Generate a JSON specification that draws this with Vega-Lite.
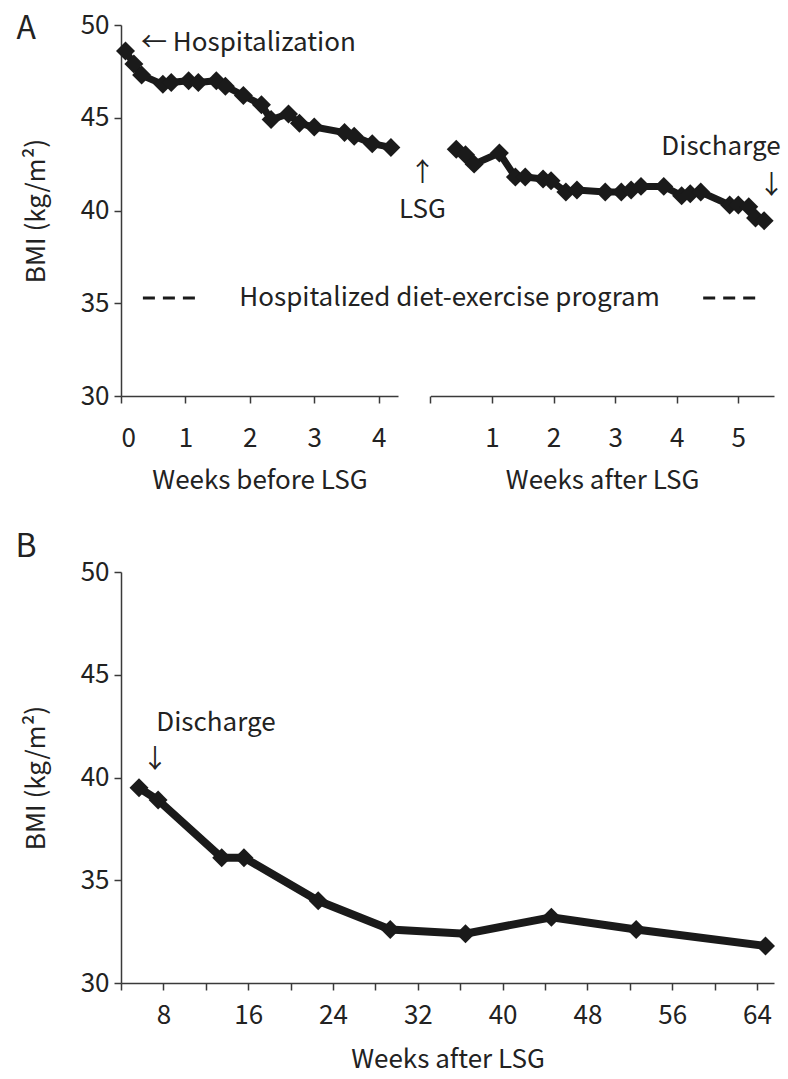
{
  "$schema": "https://vega.github.io/schema/vega-lite/v6.json",
  "background": "white",
  "padding": {"left": 15, "top": 12, "right": 5, "bottom": 5},
  "spacing": 38,
  "config": {
    "view": {"stroke": null},
    "font": "Noto Sans CJK JP",
    "axis": {
      "grid": false,
      "domainColor": "#3a3a3a",
      "domainWidth": 1.5,
      "tickColor": "#3a3a3a",
      "tickWidth": 1.5,
      "tickSize": 7,
      "labelFont": "Noto Sans CJK JP",
      "labelFontSize": 26,
      "labelColor": "#222222",
      "titleFont": "Noto Sans CJK JP",
      "titleFontSize": 26,
      "titleFontWeight": "normal",
      "titleColor": "#222222"
    },
    "text": {"font": "Noto Sans CJK JP", "fontSize": 26, "color": "#222222"}
  },
  "datasets": {
    "before": [
      {"week": 0.07, "bmi": 48.6}, {"week": 0.2, "bmi": 47.9}, {"week": 0.32, "bmi": 47.3},
      {"week": 0.65, "bmi": 46.8}, {"week": 0.78, "bmi": 46.9}, {"week": 1.05, "bmi": 47.0},
      {"week": 1.2, "bmi": 46.9}, {"week": 1.48, "bmi": 47.0}, {"week": 1.62, "bmi": 46.7},
      {"week": 1.9, "bmi": 46.2}, {"week": 2.18, "bmi": 45.7}, {"week": 2.33, "bmi": 44.9},
      {"week": 2.6, "bmi": 45.2}, {"week": 2.77, "bmi": 44.7}, {"week": 3.0, "bmi": 44.5},
      {"week": 3.47, "bmi": 44.2}, {"week": 3.62, "bmi": 44.0}, {"week": 3.9, "bmi": 43.6},
      {"week": 4.19, "bmi": 43.4}
    ],
    "after": [
      {"week": 0.42, "bmi": 43.3}, {"week": 0.57, "bmi": 43.0}, {"week": 0.71, "bmi": 42.5},
      {"week": 1.12, "bmi": 43.1}, {"week": 1.38, "bmi": 41.8}, {"week": 1.54, "bmi": 41.8},
      {"week": 1.83, "bmi": 41.7}, {"week": 1.96, "bmi": 41.6}, {"week": 2.2, "bmi": 41.0},
      {"week": 2.38, "bmi": 41.1}, {"week": 2.84, "bmi": 41.0}, {"week": 3.1, "bmi": 41.0},
      {"week": 3.26, "bmi": 41.1}, {"week": 3.42, "bmi": 41.3}, {"week": 3.79, "bmi": 41.3},
      {"week": 4.08, "bmi": 40.8}, {"week": 4.22, "bmi": 40.9}, {"week": 4.39, "bmi": 41.0},
      {"week": 4.86, "bmi": 40.3}, {"week": 5.0, "bmi": 40.3}, {"week": 5.17, "bmi": 40.2},
      {"week": 5.28, "bmi": 39.6}, {"week": 5.42, "bmi": 39.45}
    ],
    "followup": [
      {"week": 5.7, "bmi": 39.5}, {"week": 7.5, "bmi": 38.9}, {"week": 13.5, "bmi": 36.1},
      {"week": 15.6, "bmi": 36.1}, {"week": 22.6, "bmi": 34.0}, {"week": 29.4, "bmi": 32.6},
      {"week": 36.5, "bmi": 32.4}, {"week": 44.6, "bmi": 33.2}, {"week": 52.6, "bmi": 32.6},
      {"week": 64.8, "bmi": 31.8}
    ],
    "panelA": [{"week": -1.47, "bmi": 49.8, "label": "A"}],
    "notesLeft": [
      {"week": 0.31, "bmi": 49.03, "label": "← Hospitalization"}
    ],
    "notesLeftCenter": [
      {"week": 4.68, "bmi": 42.0, "label": "↑"},
      {"week": 4.68, "bmi": 40.03, "label": "LSG"},
      {"week": 5.1, "bmi": 35.28, "label": "Hospitalized diet-exercise program"}
    ],
    "notesRight": [
      {"week": 4.72, "bmi": 43.4, "label": "Discharge"},
      {"week": 5.54, "bmi": 41.3, "label": "↓"}
    ],
    "dashLeft": [{"week": 0.34, "week2": 1.2, "bmi": 35.28}],
    "dashRight": [{"week": 4.43, "week2": 5.28, "bmi": 35.28}],
    "panelB": [{"week": -4.96, "bmi": 51.2, "label": "B"}],
    "notesB": [
      {"week": 12.96, "bmi": 42.66, "label": "Discharge"},
      {"week": 7.2, "bmi": 40.86, "label": "↓"}
    ]
  },
  "vconcat": [
    {
      "width": 653,
      "height": 371,
      "encoding": {
        "y": {
          "field": "bmi", "type": "quantitative",
          "scale": {"domain": [30, 50], "nice": false, "zero": false},
          "axis": {"values": [30, 35, 40, 45, 50], "title": "BMI  (kg/m²)", "labelPadding": 5, "titlePadding": 31}
        }
      },
      "layer": [
        {
          "encoding": {
            "x": {
              "field": "week", "type": "quantitative",
              "scale": {"domain": [0, 4.3], "range": [0, 277], "nice": false, "zero": false},
              "axis": {"orient": "bottom", "values": [0, 1, 2, 3, 4], "format": "d", "title": "Weeks before LSG", "labelPadding": 22, "titlePadding": 16}
            }
          },
          "layer": [
            {
              "data": {"name": "before"},
              "mark": {"type": "line", "color": "#1a1a1a", "strokeWidth": 7,
                "point": {"shape": "diamond", "size": 360, "filled": true, "color": "#1a1a1a", "opacity": 1}}
            },
            {
              "data": {"name": "panelA"},
              "mark": {"type": "text", "fontSize": 32, "align": "center", "baseline": "middle"},
              "encoding": {"text": {"field": "label"}}
            },
            {
              "data": {"name": "notesLeft"},
              "mark": {"type": "text", "align": "left", "baseline": "middle"},
              "encoding": {"text": {"field": "label"}}
            },
            {
              "data": {"name": "notesLeftCenter"},
              "mark": {"type": "text", "align": "center", "baseline": "middle"},
              "encoding": {"text": {"field": "label"}}
            },
            {
              "data": {"name": "dashLeft"},
              "mark": {"type": "rule", "color": "#1a1a1a", "strokeWidth": 3, "strokeDash": [12, 8]},
              "encoding": {"x2": {"field": "week2"}}
            }
          ]
        },
        {
          "encoding": {
            "x": {
              "field": "week", "type": "quantitative",
              "scale": {"domain": [0, 5.58], "range": [309.4, 653], "nice": false, "zero": false},
              "axis": {"orient": "bottom", "values": [0, 1, 2, 3, 4, 5], "format": "d", "labelExpr": "datum.value === 0 ? '' : datum.label", "title": "Weeks after LSG", "labelPadding": 22, "titlePadding": 16}
            }
          },
          "layer": [
            {
              "data": {"name": "after"},
              "mark": {"type": "line", "color": "#1a1a1a", "strokeWidth": 7,
                "point": {"shape": "diamond", "size": 360, "filled": true, "color": "#1a1a1a", "opacity": 1}}
            },
            {
              "data": {"name": "notesRight"},
              "mark": {"type": "text", "align": "center", "baseline": "middle"},
              "encoding": {"text": {"field": "label"}}
            },
            {
              "data": {"name": "dashRight"},
              "mark": {"type": "rule", "color": "#1a1a1a", "strokeWidth": 3, "strokeDash": [12, 8]},
              "encoding": {"x2": {"field": "week2"}}
            }
          ]
        }
      ],
      "resolve": {"scale": {"x": "independent"}, "axis": {"x": "independent"}}
    },
    {
      "width": 653,
      "height": 411,
      "encoding": {
        "x": {
          "field": "week", "type": "quantitative",
          "scale": {"domain": [4, 65.6], "nice": false, "zero": false},
          "axis": {"values": [4, 8, 12, 16, 20, 24, 28, 32, 36, 40, 44, 48, 52, 56, 60, 64], "labelExpr": "datum.value % 8 === 0 ? datum.label : ''", "title": "Weeks after LSG", "labelPadding": 12, "titlePadding": 18}
        },
        "y": {
          "field": "bmi", "type": "quantitative",
          "scale": {"domain": [30, 50], "nice": false, "zero": false},
          "axis": {"values": [30, 35, 40, 45, 50], "title": "BMI  (kg/m²)", "labelPadding": 5, "titlePadding": 31}
        }
      },
      "layer": [
        {
          "data": {"name": "followup"},
          "mark": {"type": "line", "color": "#1a1a1a", "strokeWidth": 8,
            "point": {"shape": "diamond", "size": 360, "filled": true, "color": "#1a1a1a", "opacity": 1}}
        },
        {
          "data": {"name": "panelB"},
          "mark": {"type": "text", "fontSize": 32, "align": "center", "baseline": "middle"},
          "encoding": {"text": {"field": "label"}}
        },
        {
          "data": {"name": "notesB"},
          "mark": {"type": "text", "align": "center", "baseline": "middle"},
          "encoding": {"text": {"field": "label"}}
        }
      ]
    }
  ]
}
